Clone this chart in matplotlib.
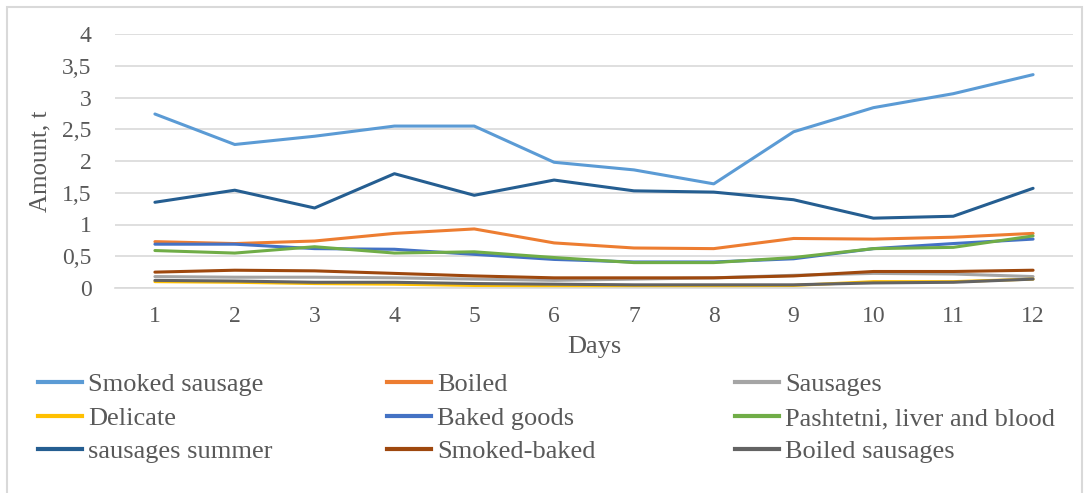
import matplotlib.pyplot as plt
from matplotlib.lines import Line2D
from matplotlib.patches import Rectangle

plt.rcParams["font.family"] = ["Liberation Serif", "DejaVu Serif"]

days = list(range(1, 13))

smoked_sausage = [2.74, 2.26, 2.39, 2.55, 2.55, 1.98, 1.86, 1.64, 2.46, 2.84, 3.06, 3.36]
boiled = [0.73, 0.70, 0.74, 0.86, 0.93, 0.71, 0.63, 0.62, 0.78, 0.77, 0.80, 0.86]
sausages = [0.18, 0.17, 0.17, 0.16, 0.14, 0.12, 0.14, 0.16, 0.20, 0.23, 0.22, 0.18]
delicate = [0.10, 0.09, 0.07, 0.06, 0.04, 0.02, 0.02, 0.02, 0.04, 0.10, 0.10, 0.14]
baked_goods = [0.69, 0.69, 0.62, 0.61, 0.53, 0.45, 0.41, 0.41, 0.46, 0.62, 0.70, 0.77]
pashtetni = [0.59, 0.55, 0.65, 0.55, 0.57, 0.48, 0.40, 0.40, 0.48, 0.62, 0.64, 0.82]
sausages_summer = [1.35, 1.54, 1.26, 1.80, 1.46, 1.70, 1.53, 1.51, 1.39, 1.10, 1.13, 1.57]
smoked_baked = [0.25, 0.28, 0.27, 0.23, 0.19, 0.16, 0.16, 0.16, 0.19, 0.26, 0.26, 0.28]
boiled_sausages = [0.12, 0.11, 0.09, 0.09, 0.07, 0.06, 0.05, 0.05, 0.05, 0.08, 0.09, 0.14]

series = [
    ("Smoked sausage", smoked_sausage, "#5B9BD5"),
    ("Boiled", boiled, "#ED7D31"),
    ("Sausages", sausages, "#A5A5A5"),
    ("Delicate", delicate, "#FFC000"),
    ("Baked goods", baked_goods, "#4472C4"),
    ("Pashtetni, liver and blood", pashtetni, "#70AD47"),
    ("sausages summer", sausages_summer, "#255E91"),
    ("Smoked-baked", smoked_baked, "#9E480E"),
    ("Boiled sausages", boiled_sausages, "#636363"),
]

text_color = "#595959"
grid_color = "#D9D9D9"

fig = plt.figure(figsize=(10.89, 4.93), dpi=100)
ax = fig.add_axes([115 / 1089, 1 - 288 / 493, (1073 - 115) / 1089, (288 - 34) / 493])

for name, vals, color in series:
    ax.plot(days, vals, color=color, lw=2.2, label=name, solid_capstyle="round")

ax.set_xlim(0.5, 12.5)
ax.set_ylim(0, 4)
ax.set_xticks(days)
ax.set_yticks([0, 0.5, 1, 1.5, 2, 2.5, 3, 3.5, 4])
ax.set_yticklabels(["0", "0,5", "1", "1,5", "2", "2,5", "3", "3,5", "4"])
ax.grid(axis="y", color=grid_color, lw=1.2)
ax.set_axisbelow(True)
for s in ["top", "right", "left"]:
    ax.spines[s].set_visible(False)
ax.spines["bottom"].set_color(grid_color)
ax.spines["bottom"].set_linewidth(1.2)
ax.tick_params(length=0, labelsize=17, colors=text_color)
ax.tick_params(axis="x", pad=13)
ax.tick_params(axis="y", pad=17)
ax.set_xlabel("Days", fontsize=19, color=text_color)
ax.set_ylabel("Amount, t", fontsize=18, color=text_color)
ax.xaxis.set_label_coords(0.5, -0.189)
ax.yaxis.set_label_coords(-0.066, 0.5)

# legend, three columns placed by hand
col_x = [38 / 1089, 387 / 1089, 735 / 1089]
for c in range(3):
    handles = []
    for r in range(3):
        name, vals, color = series[r * 3 + c]
        handles.append(Line2D([], [], color=color, lw=3, label=name))
    fig.legend(handles=handles, loc="upper left", bbox_to_anchor=(col_x[c], 1 - 373 / 493),
               frameon=False, fontsize=19, handlelength=1.67, handletextpad=0.23,
               labelspacing=0.38, labelcolor=text_color, borderpad=0, borderaxespad=0)

# chart frame
fig.add_artist(Rectangle((7 / 1089, -0.1), 1075 / 1089, 1.1 - 7 / 493, transform=fig.transFigure,
                         fill=False, edgecolor="#D9D9D9", lw=1.5))

fig.savefig("out.png", dpi=100, facecolor="white")
